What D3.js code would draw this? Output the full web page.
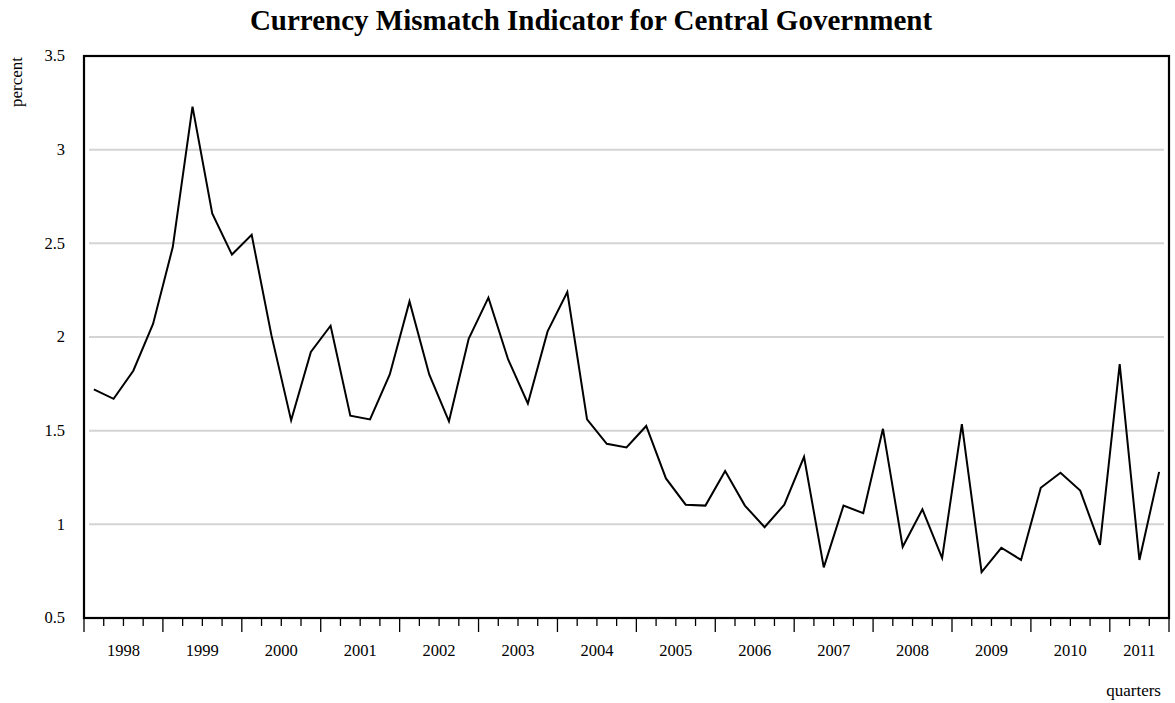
<!DOCTYPE html>
<html>
<head>
<meta charset="utf-8">
<script src="https://cdn.jsdelivr.net/npm/d3@7"></script>
<style>
  body { margin: 0; background: #fff; }
  text { font-family: "Liberation Serif", "Times New Roman", serif; fill: #000; }
</style>
</head>
<body>
<svg id="chart" width="1175" height="703"></svg>
<script>
// quarterly values, 1998 Q1 .. 2011 Q3
const years = ['1998', '1999', '2000', '2001', '2002', '2003', '2004', '2005', '2006', '2007', '2008', '2009', '2010', '2011'];
const values = [
  1.72, 1.67, 1.82, 2.07,   // 1998
  2.48, 3.23, 2.66, 2.44,   // 1999
  2.545, 2.01, 1.555, 1.92, // 2000
  2.06, 1.58, 1.56, 1.80,   // 2001
  2.19, 1.80, 1.55, 1.99,   // 2002
  2.21, 1.88, 1.645, 2.03,  // 2003
  2.24, 1.56, 1.43, 1.41,   // 2004
  1.525, 1.245, 1.105, 1.10, // 2005
  1.285, 1.10, 0.985, 1.105, // 2006
  1.36, 0.77, 1.10, 1.06,   // 2007
  1.51, 0.88, 1.08, 0.82,   // 2008
  1.535, 0.745, 0.875, 0.81, // 2009
  1.195, 1.275, 1.18, 0.89, // 2010
  1.855, 0.81, 1.28         // 2011
];
const yTicks = [0.5, 1, 1.5, 2, 2.5, 3, 3.5];
const yTickLabels = ['0.5', '1', '1.5', '2', '2.5', '3', '3.5'];

const quarters = values.map((v, i) => `${years[Math.floor(i / 4)]}Q${(i % 4) + 1}`);

const margin = { top: 56, right: 6, bottom: 85, left: 84 };
const width = 1175, height = 703;
const plotW = width - margin.left - margin.right;
const plotH = height - margin.top - margin.bottom;

const svg = d3.select('#chart');
const g = svg.append('g').attr('transform', `translate(${margin.left},${margin.top})`);

const x = d3.scaleBand().domain(quarters).range([0, plotW]).padding(0);
const y = d3.scaleLinear().domain([0.5, 3.5]).range([plotH, 0]);

// grid lines (inset a little from the frame)
g.append('g')
  .selectAll('line')
  .data(yTicks.filter(t => t > 0.5 && t < 3.5))
  .join('line')
    .attr('x1', 5)
    .attr('x2', plotW - 5)
    .attr('y1', d => y(d))
    .attr('y2', d => y(d))
    .style('stroke', '#d4d4d4')
    .style('stroke-width', 2);

// y axis labels, no tick marks
g.append('g')
  .selectAll('text')
  .data(yTicks)
  .join('text')
    .attr('x', -19)
    .attr('y', d => y(d))
    .attr('dy', '0.32em')
    .attr('text-anchor', 'end')
    .style('font-size', '16.5px')
    .text((d, i) => yTickLabels[i]);

// quarter ticks between categories, long ones at year boundaries
const tickPos = d3.range(values.length + 1).map(i => i * x.bandwidth());
g.append('g')
  .attr('transform', `translate(0,${plotH})`)
  .selectAll('line')
  .data(tickPos)
  .join('line')
    .attr('x1', d => d)
    .attr('x2', d => d)
    .attr('y1', 0)
    .attr('y2', (d, i) => (i % 4 === 0 || i === values.length) ? 14 : 8)
    .style('stroke', '#000')
    .style('stroke-width', 1.3);

// year labels centred on their quarters
g.append('g')
  .selectAll('text')
  .data(years)
  .join('text')
    .attr('x', (d, i) => {
      const qs = quarters.filter(q => q.startsWith(d));
      return (x(qs[0]) + x(qs[qs.length - 1]) + x.bandwidth()) / 2;
    })
    .attr('y', plotH + 38)
    .attr('text-anchor', 'middle')
    .style('font-size', '16.5px')
    .text(d => d);

// the series
const line = d3.line()
  .x((d, i) => x(quarters[i]) + x.bandwidth() / 2)
  .y(d => y(d));

g.append('path')
  .datum(values)
  .attr('d', line)
  .style('fill', 'none')
  .style('stroke', '#000')
  .style('stroke-width', 2)
  .style('stroke-linejoin', 'miter');

// frame
g.append('rect')
  .attr('width', plotW)
  .attr('height', plotH)
  .style('fill', 'none')
  .style('stroke', '#000')
  .style('stroke-width', 2.2);

// title and axis titles
svg.append('text')
  .attr('x', 591)
  .attr('y', 29.5)
  .attr('text-anchor', 'middle')
  .style('font-size', '29px')
  .style('font-weight', 'bold')
  .text('Currency Mismatch Indicator for Central Government');

svg.append('text')
  .attr('transform', 'translate(22,57) rotate(-90)')
  .attr('text-anchor', 'end')
  .style('font-size', '17px')
  .text('percent');

svg.append('text')
  .attr('x', 1161)
  .attr('y', 696)
  .attr('text-anchor', 'end')
  .style('font-size', '17px')
  .text('quarters');
</script>
</body>
</html>
